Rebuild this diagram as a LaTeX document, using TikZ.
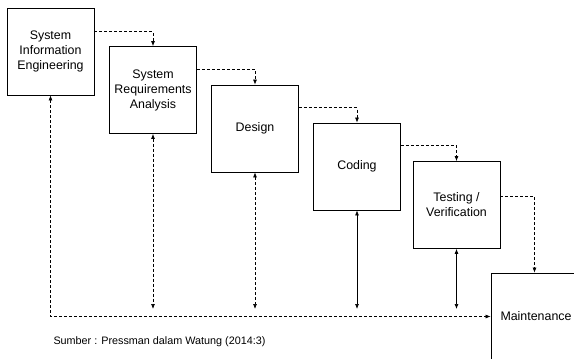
\documentclass[tikz,border=0pt]{standalone}
\usepackage{fontspec}
\setmainfont{Liberation Sans}
\usetikzlibrary{arrows.meta}

\begin{document}
\begin{tikzpicture}[x=1pt,y=-1pt,
  phase/.style={draw,line width=.8pt,minimum width=87pt,minimum height=87pt,inner sep=0pt,
    align=center,font=\fontsize{12.4}{15}\selectfont},
  flow/.style={line width=.7pt,dash pattern=on 3pt off 2pt,-{Latex[length=5pt,width=4pt]}},
  back/.style={line width=.7pt,dash pattern=on 3pt off 2pt,{Latex[length=5pt,width=4pt]}-{Latex[length=5pt,width=4pt]}},
  feed/.style={line width=.7pt,{Latex[length=5pt,width=4pt]}-{Latex[length=5pt,width=4pt]}}]
\useasboundingbox (0,0) rectangle (574,360);
\clip (0,0) rectangle (574,358.5);

\node[phase] (sie)  at (50.5,51.5) {System\\Information\\Engineering};
\node[phase] (req)  at (153,90)    {System\\Requirements\\Analysis};
\node[phase] (des)  at (255,128.5) {Design};
\node[phase] (cod)  at (357,166.5) {Coding};
\node[phase] (tes)  at (456.5,205) {Testing /\\Verification};
\node[phase] (mnt)  at (534.5,316.5) {\hspace{3pt}Maintenance};

\coordinate (base) at (0,309);

% waterfall
\draw[flow] ([yshift=-24pt]sie.north east) -| (req.north);
\draw[flow] ([yshift=-23pt]req.north east) -| (des.north);
\draw[flow] ([yshift=-23pt]des.north east) -| (cod.north);
\draw[flow] ([yshift=-23pt]cod.north east) -| (tes.north);
\draw[flow] ([yshift=-35pt]tes.north east) -| (mnt.north);

% feedback
\draw[back] (sie.south) |- (mnt.west);
\draw[back] (req.south) -- (req.south |- base);
\draw[back] (des.south) -- (des.south |- base);
\draw[feed] (cod.south) -- (cod.south |- base);
\draw[feed] (tes.south) -- (tes.south |- base);

\node[anchor=west,font=\fontsize{10.8}{13}\selectfont] (src) at (50,342) {Sumber : Pressman dalam Watung (2014:3)};
\end{tikzpicture}
\end{document}
